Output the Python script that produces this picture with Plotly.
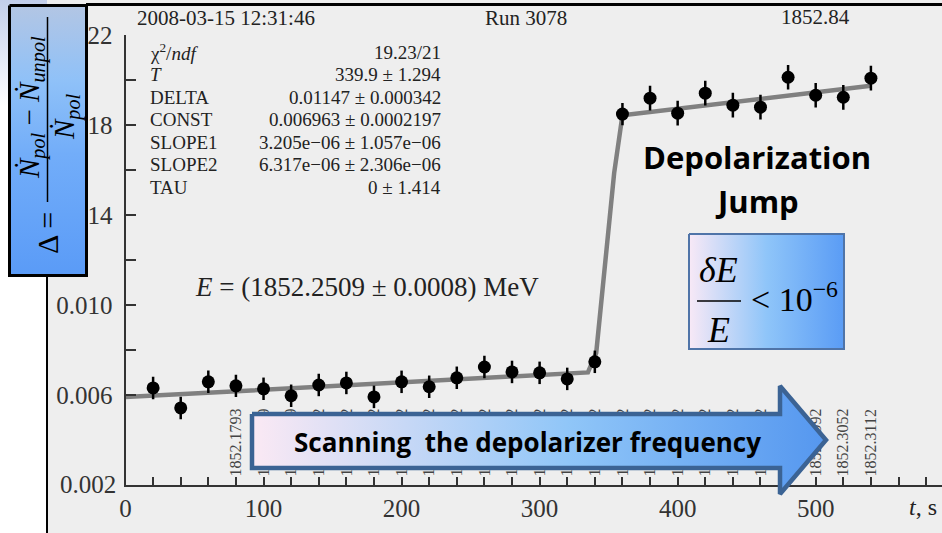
import plotly.graph_objects as go

# ---------------- data ----------------
t_s = [20, 40, 60, 80, 100, 120, 140, 160, 180, 200, 220, 240, 260, 280, 300,
       320, 340, 360, 380, 400, 420, 440, 460, 480, 500, 520, 540]
delta = [0.00631, 0.00542, 0.00658, 0.00640, 0.00627, 0.00596, 0.00644, 0.00653,
         0.00591, 0.00658, 0.00636, 0.00676, 0.00724, 0.00702, 0.00698, 0.00671,
         0.00747, 0.01849, 0.01920, 0.01853, 0.01942, 0.01889, 0.01880, 0.02013,
         0.01933, 0.01924, 0.02009]
delta_err = [0.00050, 0.00050, 0.00050, 0.00050, 0.00050, 0.00050, 0.00050, 0.00050,
             0.00050, 0.00050, 0.00050, 0.00050, 0.00050, 0.00050, 0.00050, 0.00050,
             0.00050, 0.00050, 0.00055, 0.00055, 0.00055, 0.00055, 0.00055, 0.00055,
             0.00055, 0.00055, 0.00055]

fit_t = [0, 335, 341, 354, 360, 540]
fit_delta = [0.00590, 0.00700, 0.00787, 0.01587, 0.01844, 0.01975]

y_ticks = [0.002, 0.006, 0.010, 0.014, 0.018, 0.022]
y_tick_labels = ["0.002", "0.006", "0.010", "0.014", "0.018", "0.022"]

freq_t = [80, 100, 120, 140, 160, 180, 200, 220, 240, 260, 280, 300, 320, 340,
          360, 380, 400, 420, 440, 460, 480, 500, 520, 540]
freq_labels = ["1852.1793", "1852.1819", "1852.1859", "1852.1912", "1852.1972",
               "1852.2032", "1852.2092", "1852.2152", "1852.2212", "1852.2272",
               "1852.2332", "1852.2392", "1852.2452", "1852.2512", "1852.2572",
               "1852.2632", "1852.2692", "1852.2752", "1852.2812", "1852.2872",
               "1852.2932", "1852.2992", "1852.3052", "1852.3112"]

stat_names = ["χ<sup>2</sup>/<i>ndf</i>", "<i>T</i>", "DELTA", "CONST", "SLOPE1", "SLOPE2", "TAU"]
stat_values = ["19.23/21", "339.9 ± 1.294", "0.01147 ± 0.000342", "0.006963 ± 0.0002197",
               "3.205e−06 ± 1.057e−06", "6.317e−06 ± 2.306e−06", "0 ± 1.414"]

SERIF = "Liberation Serif, Times New Roman, DejaVu Serif, serif"
SANS = "Open Sans, Lato, sans-serif"
AX = "#333333"

fig = go.Figure()

# fit curve
fig.add_trace(go.Scatter(x=fit_t, y=fit_delta, mode="lines",
                         line=dict(color="#808080", width=4.5),
                         xaxis="x", yaxis="y", hoverinfo="skip"))
# data points
fig.add_trace(go.Scatter(x=t_s, y=delta, mode="markers",
                         marker=dict(color="black", size=13),
                         error_y=dict(type="data", array=delta_err, color="black",
                                      thickness=2.5, width=0),
                         xaxis="x", yaxis="y"))
# carrier for rotated frequency labels axis
fig.add_trace(go.Scatter(x=freq_t, y=[None] * len(freq_t), mode="markers",
                         xaxis="x2", yaxis="y", hoverinfo="skip"))


# ---------------- slide decorations (pixel coordinates on x3/y3) ----------------
def poly(xs, ys, scale, gtype, lc="rgba(0,0,0,0)", lw=0):
    fig.add_trace(go.Scatter(x=xs + [xs[0]], y=ys + [ys[0]], xaxis="x3", yaxis="y3",
                             mode="lines", fill="toself",
                             fillgradient=dict(type=gtype, colorscale=scale),
                             line=dict(color=lc, width=lw), hoverinfo="skip"))


# white slide margin with bluish bottom gradient
poly([0, 47, 47, 0], [0, 0, 533, 533],
     [[0, "#ffffff"], [0.80, "#ffffff"], [0.86, "#edf1fa"], [1, "#c2ceea"]], "vertical")
# formula box
poly([9.5, 86.5, 86.5, 9.5], [5.5, 5.5, 275.5, 275.5],
     [[0, "#5a9bf7"], [0.45, "#72adf9"], [0.72, "#8fc1f8"], [1, "#b3c6e4"]], "vertical",
     "black", 3)
# dE/E box
poly([689, 844, 844, 689], [234, 234, 349, 349],
     [[0, "#f8e9f6"], [0.5, "#8fc5f9"], [1, "#5a9cf5"]], "horizontal", "#4f74a8", 2)
# scanning arrow
poly([252, 780, 780, 826, 780, 780, 252], [414, 414, 386, 440, 494, 468, 468],
     [[0, "#fbe9f4"], [0.55, "#90c6f8"], [1, "#5597ef"]], "horizontal", "#3b6394", 4.5)

shapes = [
    dict(type="line", xref="x3", yref="y3", x0=86, x1=942, y0=4.5, y1=4.5,
         line=dict(color="black", width=3)),
    dict(type="line", xref="x3", yref="y3", x0=47, x1=47, y0=276, y1=533,
         line=dict(color="black", width=2)),
    dict(type="line", xref="x3", yref="y3", x0=47.5, x1=47.5, y0=17, y1=202,
         line=dict(color="black", width=1.5)),
    dict(type="line", xref="x3", yref="y3", x0=697, x1=741, y0=301, y1=301,
         line=dict(color="black", width=1.5)),
]

annotations = []


def ann(text, x, y, size, xanchor="center", family=SERIF, color="#222222", angle=0):
    annotations.append(dict(text=text, x=x, y=y, xref="x3", yref="y3", showarrow=False,
                            xanchor=xanchor, yanchor="middle", textangle=angle,
                            font=dict(family=family, size=size, color=color)))


ann("2008-03-15 12:31:46", 135, 18, 21, "left")
ann("Run 3078", 526, 18, 21)
ann("1852.84", 815, 17, 21)
for i, (nm, val) in enumerate(zip(stat_names, stat_values)):
    yy = 52 + i * 22.5
    ann(nm, 148, yy, 19, "left")
    ann(val, 443, yy, 19, "right")
ann("<i>E</i> = (1852.2509 ± 0.0008) MeV", 193, 287, 27, "left")
ann("<i>t</i>, s", 923, 507, 24)
# bottom y tick label (plotly suppresses it where the axes meet)
annotations.append(dict(text=y_tick_labels[0], x=0, y=y_ticks[0], xref="x", yref="y",
                        xshift=-8, showarrow=False, xanchor="right", yanchor="middle",
                        font=dict(family=SERIF, size=25, color=AX)))

ann("<b>Depolarization</b>", 757, 157, 31, family=SANS, color="black")
ann("<b>Jump</b>", 757, 201, 31, family=SANS, color="black")
ann("<b>Scanning\u00a0\u00a0the depolarizer frequency</b>", 527, 442, 26, family=SANS,
    color="black")

ann("<i>δE</i>", 718, 270, 36, color="black")
ann("<i>E</i>", 718, 330, 36, color="black")
ann("&lt; 10<sup>−6</sup>", 749, 297, 34, "left", color="black")

ann("<i>Ṅ</i><sub><i>pol</i></sub> − <i>Ṅ</i><sub><i>unpol</i></sub>", 31, 108, 29,
    color="black", angle=-90)
ann("<i>Ṅ</i><sub><i>pol</i></sub>", 66, 117, 29, color="black", angle=-90)
ann("Δ =", 47, 233, 30, color="black", angle=-90)

tickfont = dict(family=SERIF, size=25, color=AX)
fig.update_layout(
    width=942, height=533, margin=dict(l=0, r=0, t=0, b=0, pad=0, autoexpand=False),
    paper_bgcolor="#eeeeee", plot_bgcolor="rgba(0,0,0,0)", showlegend=False,
    xaxis=dict(domain=[125.5 / 942, 1], range=[0, 591.5], anchor="y", automargin=False,
               showline=True, linecolor=AX, linewidth=2, showgrid=False, zeroline=False,
               ticks="inside", ticklen=8, tickwidth=2, tickcolor=AX, tick0=0, dtick=100,
               minor=dict(ticks="inside", ticklen=8, tickwidth=2, tickcolor=AX,
                          tick0=0, dtick=20, showgrid=False),
               tickfont=tickfont, fixedrange=True),
    xaxis2=dict(overlaying="x", anchor="y", side="bottom", range=[0, 591.5],
                automargin=False,
                tickmode="array", tickvals=freq_t, ticktext=freq_labels,
                tickangle=-90, ticklabelposition="inside", ticks="", showline=False,
                showgrid=False, zeroline=False,
                tickfont=dict(family=SERIF, size=16, color="#444444"), fixedrange=True),
    yaxis=dict(domain=[48 / 533, 498 / 533], range=[0.00199, 0.02201], anchor="x",
               automargin=False,
               showline=True, linecolor=AX, linewidth=2, showgrid=False, zeroline=False,
               ticks="inside", ticklen=10, tickwidth=2, tickcolor=AX,
               tickmode="array", tickvals=y_ticks[1:], ticktext=y_tick_labels[1:],
               minor=dict(ticks="inside", ticklen=10, tickwidth=2, tickcolor=AX,
                          tick0=0.002, dtick=0.002, showgrid=False),
               tickfont=tickfont, ticklabelstandoff=6, fixedrange=True),
    xaxis3=dict(domain=[0, 1], range=[0, 942], anchor="y3", visible=False,
                fixedrange=True, automargin=False),
    yaxis3=dict(domain=[0, 1], range=[533, 0], anchor="x3", visible=False,
                fixedrange=True, automargin=False),
    shapes=shapes, annotations=annotations,
)

fig.write_html("out.html")
